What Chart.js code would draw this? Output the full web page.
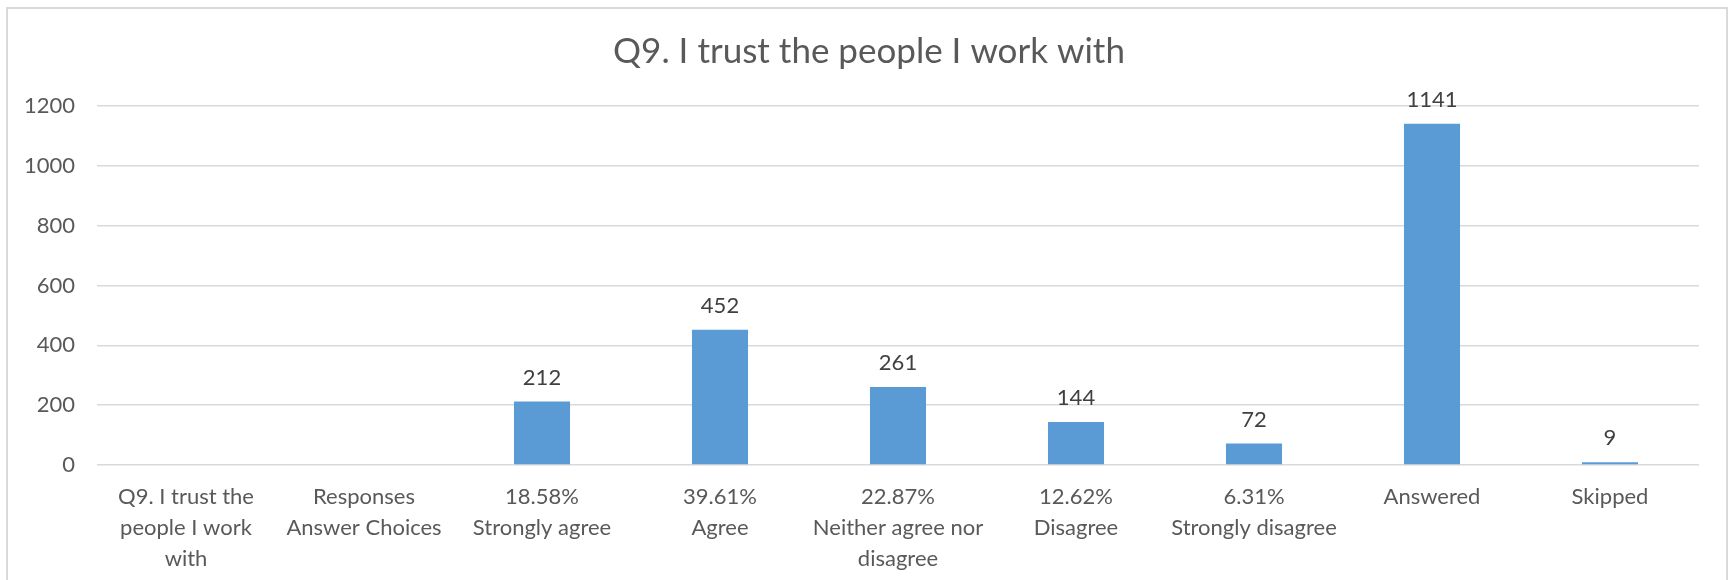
<!DOCTYPE html>
<html>
<head>
<meta charset="utf-8">
<script src="https://cdn.jsdelivr.net/npm/chart.js@4"></script>
<style>
  html, body { margin: 0; padding: 0; background: #fff; overflow: hidden; }
  #wrap { position: relative; width: 1735px; height: 580px; }
  #frame {
    position: absolute; left: 6px; top: 7px; width: 1722px; height: 600px;
    border: 2px solid #d9d9d9; box-sizing: border-box; pointer-events: none;
  }
  canvas { position: absolute; left: 0; top: 0; }
</style>
</head>
<body>
<div id="wrap">
  <canvas id="trustChart" width="1735" height="580"></canvas>
  <div id="frame"></div>
</div>
<script>
const categories = [
    ['Q9. I trust the', 'people I work', 'with'],
    ['Responses', 'Answer Choices'],
    ['18.58%', 'Strongly agree'],
    ['39.61%', 'Agree'],
    ['22.87%', 'Neither agree nor', 'disagree'],
    ['12.62%', 'Disagree'],
    ['6.31%', 'Strongly disagree'],
    'Answered',
    'Skipped'
];
const responses = [null, null, 212, 452, 261, 144, 72, 1141, 9];
const yTicks = [0, 200, 400, 600, 800, 1000, 1200];
const chartTitle = 'Q9. I trust the people I work with';

const FONT = 'Lato, "Open Sans", sans-serif';
const TEXT = '#595959';

// title centred on the whole canvas, value labels above each bar
const decorations = {
    id: 'decorations',
    afterDraw(chart) {
        const ctx = chart.ctx;
        ctx.save();
        ctx.font = '35px ' + FONT;
        ctx.fillStyle = TEXT;
        ctx.textAlign = 'center';
        ctx.textBaseline = 'middle';
        ctx.fillText(chartTitle, 869, 52);

        ctx.font = '22px ' + FONT;
        ctx.fillStyle = '#404040';
        chart.getDatasetMeta(0).data.forEach((bar, i) => {
            const v = responses[i];
            if (v === null) return;
            ctx.fillText(String(v), bar.x, bar.y - 24);
        });
        ctx.restore();
    }
};

new Chart(document.getElementById('trustChart').getContext('2d'), {
    type: 'bar',
    data: {
        labels: categories,
        datasets: [{
            data: responses,
            backgroundColor: '#5b9bd5',
            barPercentage: 0.315,
            categoryPercentage: 1
        }]
    },
    options: {
        responsive: false,
        animation: false,
        layout: { padding: { left: 0, right: 36, top: 106, bottom: 0 } },
        scales: {
            x: {
                afterFit: (scale) => { scale.height = 115; },
                grid: { display: false, drawTicks: false },
                border: { display: false },
                ticks: {
                    color: TEXT,
                    font: { family: FONT, size: 22, lineHeight: 1.39 },
                    padding: 17,
                    maxRotation: 0,
                    autoSkip: false
                }
            },
            y: {
                min: 0,
                max: 1200,
                afterBuildTicks: (scale) => {
                    scale.ticks = yTicks.map(v => ({ value: v }));
                },
                afterFit: (scale) => { scale.width = 97; },
                grid: { color: '#d9d9d9', lineWidth: 1.5, drawTicks: false },
                border: { display: false },
                ticks: {
                    color: TEXT,
                    font: { family: FONT, size: 22 },
                    padding: 22,
                    callback: (value) => String(value)
                }
            }
        },
        plugins: {
            legend: { display: false },
            tooltip: { enabled: false },
            title: { display: false }
        }
    },
    plugins: [decorations]
});
</script>
</body>
</html>
